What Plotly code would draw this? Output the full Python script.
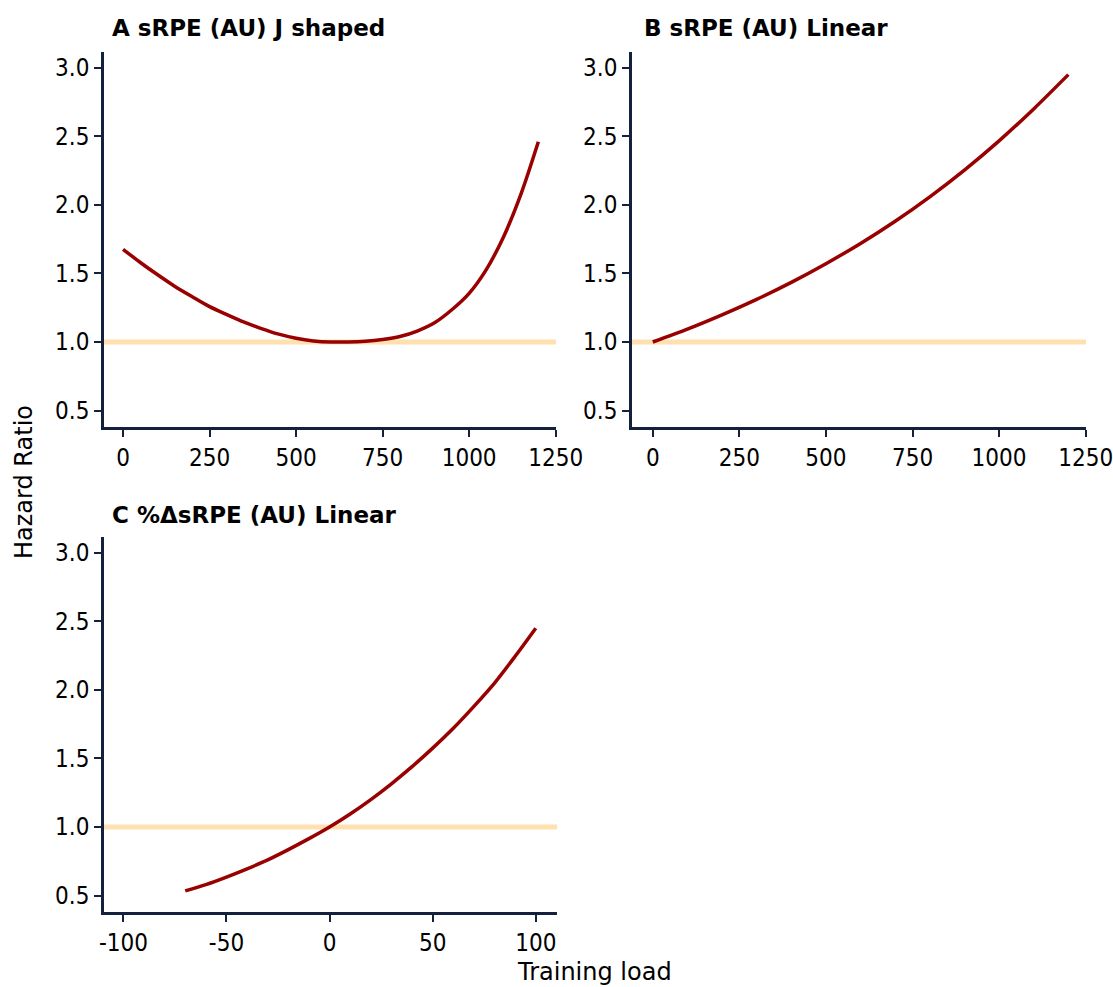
import plotly.graph_objects as go

# ---- data ----
load_a = [0, 50, 100, 150, 200, 250, 300, 350, 400, 450, 500, 550, 600, 650, 700,
          750, 800, 850, 900, 950, 1000, 1050, 1100, 1150, 1200]
hr_a = [1.676, 1.58, 1.49, 1.405, 1.33, 1.258, 1.20, 1.145, 1.098, 1.057, 1.027, 1.008,
        1.0, 1.0, 1.005, 1.018, 1.04, 1.08, 1.14, 1.235, 1.355, 1.53, 1.77, 2.08, 2.46]

load_b = [0, 100, 200, 300, 400, 500, 600, 700, 800, 900, 1000, 1100, 1200]
hr_b = [1.0, 1.094, 1.198, 1.311, 1.435, 1.571, 1.719, 1.881, 2.059, 2.254, 2.467, 2.70, 2.95]

load_c = [-70, -60, -50, -40, -30, -20, -10, 0, 10, 20, 30, 40, 50, 60, 70, 80, 90, 100]
hr_c = [0.534, 0.58, 0.635, 0.695, 0.76, 0.835, 0.915, 1.0, 1.095, 1.20, 1.315, 1.44,
        1.575, 1.72, 1.88, 2.05, 2.245, 2.45]

titles = ["A sRPE (AU) J shaped", "B sRPE (AU) Linear", "C %ΔsRPE (AU) Linear"]
y_ticks = [0.5, 1.0, 1.5, 2.0, 2.5, 3.0]
y_tick_labels = ["0.5", "1.0", "1.5", "2.0", "2.5", "3.0"]
x_ticks_ab = [0, 250, 500, 750, 1000, 1250]
x_tick_labels_ab = ["0", "250", "500", "750", "1000", "1250"]
x_ticks_c = [-100, -50, 0, 50, 100]
x_tick_labels_c = ["-100", "-50", "0", "50", "100"]
ref_value = 1.0

# ---- styling ----
W, H = 1113, 987
TICK_FONT = "DejaVu Sans Condensed, DejaVu Sans"
TEXT_FONT = "DejaVu Sans"
AXIS_COL = "#14213d"
CURVE_COL = "#990000"
REF_COL = "#FFE1B0"


def px_x(p):
    return p / W


def px_y(p):
    return 1 - p / H


fig = go.Figure()

panels = [
    ("x", "y", load_a, hr_a),
    ("x2", "y2", load_b, hr_b),
    ("x3", "y3", load_c, hr_c),
]
for xa, ya, xs, ys in panels:
    fig.add_trace(go.Scatter(x=xs, y=ys, xaxis=xa, yaxis=ya, mode="lines",
                             line=dict(color=CURVE_COL, width=3.5, shape="spline", smoothing=0.8),
                             showlegend=False, hoverinfo="skip"))

axis_common = dict(showline=True, linecolor=AXIS_COL, linewidth=2.5, ticks="outside",
                   ticklen=7, tickwidth=1.5, tickcolor=AXIS_COL, showgrid=False,
                   zeroline=False, automargin=False, ticklabeloverflow="allow",
                   tickfont=dict(family=TICK_FONT, size=24, color="black"))

yax = dict(axis_common, range=[0.38, 3.115], tickvals=y_ticks, ticktext=y_tick_labels)

fig.update_layout(
    template="none",
    width=W, height=H, margin=dict(l=0, r=0, t=0, b=0, autoexpand=False),
    plot_bgcolor="white", paper_bgcolor="white",
    xaxis=dict(axis_common, domain=[px_x(104), px_x(556)], range=[-55, 1251],
               tickvals=x_ticks_ab, ticktext=x_tick_labels_ab, anchor="y"),
    yaxis=dict(yax, domain=[px_y(427), px_y(52)], anchor="x"),
    xaxis2=dict(axis_common, domain=[px_x(632), px_x(1086)], range=[-60, 1251],
                tickvals=x_ticks_ab, ticktext=x_tick_labels_ab, anchor="y2"),
    yaxis2=dict(yax, domain=[px_y(427), px_y(52)], anchor="x2"),
    xaxis3=dict(axis_common, domain=[px_x(104), px_x(557)], range=[-109.4, 110.3],
                tickvals=x_ticks_c, ticktext=x_tick_labels_c, anchor="y3"),
    yaxis3=dict(yax, domain=[px_y(912), px_y(537)], anchor="x3"),
)

# reference lines at HR = 1
for xa, ya in [("x", "y"), ("x2", "y2"), ("x3", "y3")]:
    fig.add_shape(type="line", xref=f"{xa} domain", yref=ya, x0=0, x1=1,
                  y0=ref_value, y1=ref_value, line=dict(color=REF_COL, width=5),
                  layer="below")

# panel titles
title_pos = [(110, 28), (642, 28), (110, 515)]
for t, (tx, ty) in zip(titles, title_pos):
    fig.add_annotation(text=f"<b>{t}</b>", xref="paper", yref="paper",
                       x=px_x(tx), y=px_y(ty), xanchor="left", yanchor="middle",
                       showarrow=False, font=dict(family=TEXT_FONT, size=23, color="black"))

# axis titles
fig.add_annotation(text="Hazard Ratio", xref="paper", yref="paper", x=px_x(24), y=px_y(482),
                   xanchor="center", yanchor="middle", textangle=-90, showarrow=False,
                   font=dict(family=TEXT_FONT, size=24, color="black"))
fig.add_annotation(text="Training load", xref="paper", yref="paper", x=px_x(594), y=px_y(972),
                   xanchor="center", yanchor="middle", showarrow=False,
                   font=dict(family=TEXT_FONT, size=24, color="black"))

fig.write_html("out.html")
